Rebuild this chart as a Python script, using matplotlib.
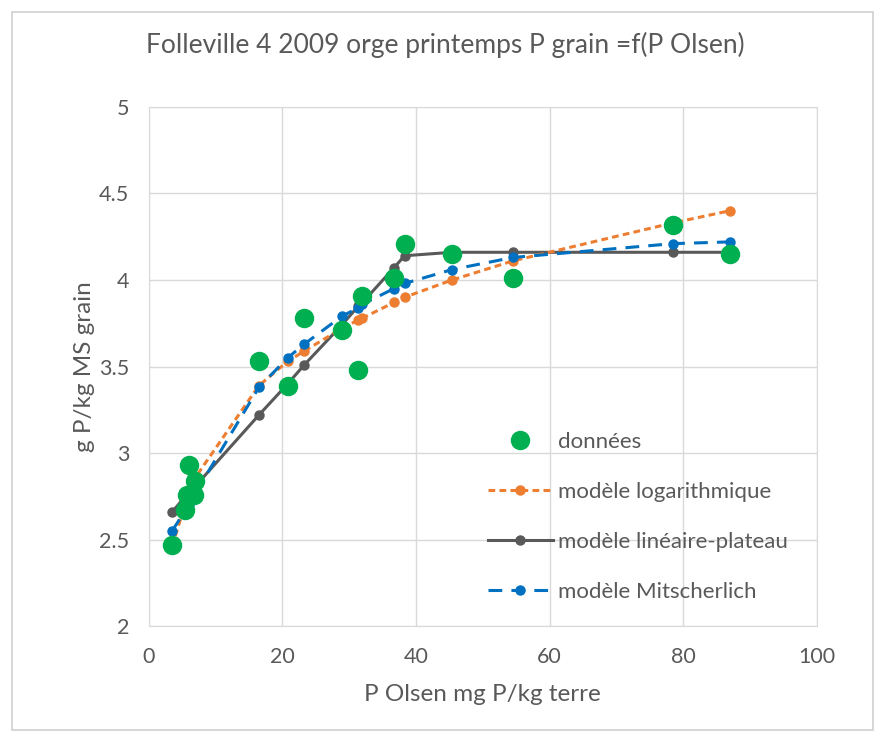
import matplotlib
matplotlib.use('Agg')
import matplotlib.pyplot as plt
from matplotlib.patches import Rectangle

plt.rcParams['font.family'] = ['Lato', 'DejaVu Sans']

# P Olsen (mg P/kg terre) and measured P grain (g P/kg MS)
p_olsen = [3.5, 5.5, 5.8, 6.0, 6.8, 7.0, 16.5, 20.8, 23.3, 28.9, 31.4, 32.0,
           36.7, 38.3, 45.4, 54.5, 78.5, 87.0]
donnees = [2.47, 2.67, 2.76, 2.93, 2.76, 2.84, 3.53, 3.39, 3.78, 3.71, 3.48, 3.91,
           4.01, 4.21, 4.15, 4.01, 4.32, 4.15]

# model predictions at the same P Olsen values
mod_log = [2.46, 2.71, 2.74, 2.76, 2.84, 2.86, 3.39, 3.53, 3.59, 3.72, 3.77, 3.78,
           3.87, 3.90, 4.00, 4.11, 4.33, 4.40]
mod_lin_plat = [2.66, 2.75, 2.76, 2.77, 2.80, 2.81, 3.22, 3.40, 3.51, 3.74, 3.85, 3.87,
                4.07, 4.14, 4.16, 4.16, 4.16, 4.16]
mod_mitsch = [2.55, 2.67, 2.69, 2.70, 2.75, 2.77, 3.38, 3.55, 3.63, 3.79, 3.84, 3.86,
              3.95, 3.98, 4.06, 4.13, 4.21, 4.22]

x_ticks = [0, 20, 40, 60, 80, 100]
y_ticks = [2, 2.5, 3, 3.5, 4, 4.5, 5]
y_tick_labels = ['2', '2.5', '3', '3.5', '4', '4.5', '5']

txt = '#595959'
grid_c = '#D9D9D9'

fig = plt.figure(figsize=(8.85, 7.42), dpi=100)
ax = fig.add_axes([0.168, 0.156, 0.755, 0.70])

# data drawn above the model curves
ax.plot(p_olsen, donnees, linestyle='none', marker='o', markersize=13,
        color='#00B050', label='données', zorder=5)
ax.plot(p_olsen, mod_log, color='#ED7D31', linestyle=(0, (2.2, 1.4)), linewidth=2.2,
        marker='o', markersize=6.5, label='modèle logarithmique', zorder=4)
ax.plot(p_olsen, mod_lin_plat, color='#595959', linestyle='-', linewidth=2.2,
        marker='o', markersize=6.5, label='modèle linéaire-plateau', zorder=3)
ax.plot(p_olsen, mod_mitsch, color='#0070C0', linestyle=(0, (4.5, 3)), linewidth=2.2,
        marker='o', markersize=6.5, label='modèle Mitscherlich', zorder=4)

ax.set_xlim(0, 100)
ax.set_ylim(2, 5)
ax.set_xticks(x_ticks)
ax.set_yticks(y_ticks)
ax.set_yticklabels(y_tick_labels)
ax.grid(True, color=grid_c, linewidth=1)
ax.set_axisbelow(True)
for s in ax.spines.values():
    s.set_color(grid_c)
ax.tick_params(length=0, colors=txt, labelsize=15.5)
ax.tick_params(axis='x', pad=15)
ax.tick_params(axis='y', pad=14)

ax.set_xlabel('P Olsen mg P/kg terre', color=txt, fontsize=17.5, labelpad=12)
ax.set_ylabel('g P/kg MS grain', color=txt, fontsize=17.5, labelpad=3)
fig.text(0.503, 0.94, 'Folleville 4 2009 orge printemps P grain =f(P Olsen)',
         ha='center', va='center', color=txt, fontsize=19)

leg = ax.legend(loc='upper left', bbox_to_anchor=(0.478, 0.412), frameon=False,
                fontsize=16, handlelength=2.9, labelspacing=1.35, handletextpad=0.25,
                labelcolor=txt, borderpad=0.4)

fig.patches.append(Rectangle((0.014, 0.016), 0.972, 0.968, transform=fig.transFigure,
                             fill=False, edgecolor='#D0D0D0', linewidth=1.2))

fig.savefig('out.png', dpi=100)
